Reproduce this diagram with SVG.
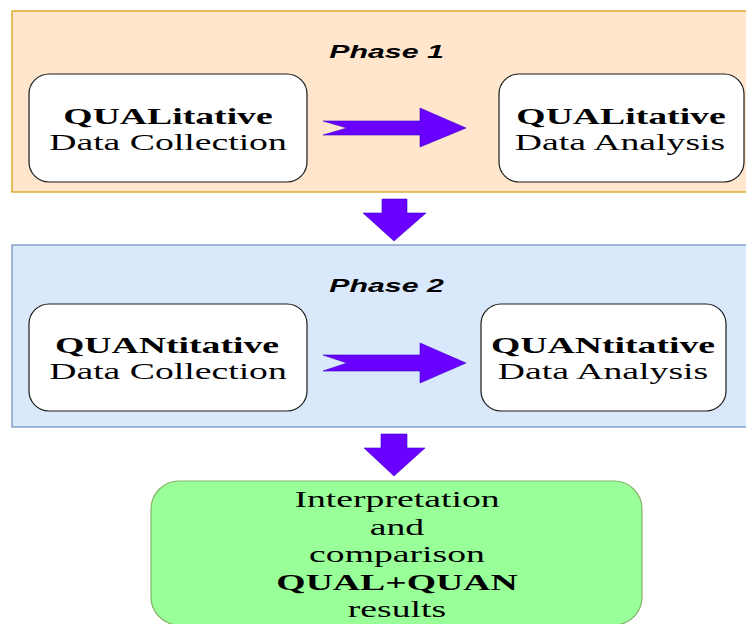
<svg xmlns="http://www.w3.org/2000/svg" width="746" height="624" viewBox="0 0 746 624">
  <style>
    .phase1 { fill: #ffe6cc; stroke: #d79b00; stroke-width: 1.2; }
    .phase2 { fill: #dae8fc; stroke: #6c8ebf; stroke-width: 1.2; }
    .node { fill: #ffffff; stroke: #1a1a1a; stroke-width: 1.2; }
    .result { fill: #99ff99; stroke: #82b366; stroke-width: 1.2; }
    .arrow { fill: #6a00ff; stroke: #3700cc; stroke-width: 0.6; }
    text { text-anchor: middle; fill: #000; }
    .label { font-family: "Liberation Sans", Arial, sans-serif; font-weight: bold; font-style: italic; font-size: 18.5px; }
    .t { font-family: "Liberation Serif", "Times New Roman", serif; font-size: 23px; }
    .b { font-weight: bold; }
  </style>

  <!-- Phase containers (text is drawn 1.64x wide) -->
  <g id="phase1">
    <rect class="phase1" x="12" y="11" width="740" height="181"/>
    <text class="label" transform="translate(386.5,58) scale(1.64,1)">Phase 1</text>
  </g>
  <g id="phase2">
    <rect class="phase2" x="12" y="245" width="740" height="182"/>
    <text class="label" transform="translate(386.5,292) scale(1.64,1)">Phase 2</text>
  </g>

  <!-- Nodes -->
  <g id="qual-collection">
    <rect class="node" x="29" y="74" width="278" height="108" rx="20"/>
    <text class="t b" transform="translate(168,124) scale(1.64,1)">QUALitative</text>
    <text class="t" transform="translate(168,150) scale(1.64,1)">Data Collection</text>
  </g>
  <g id="qual-analysis">
    <rect class="node" x="499" y="74" width="245" height="108" rx="20"/>
    <text class="t b" transform="translate(621,124) scale(1.64,1)">QUALitative</text>
    <text class="t" transform="translate(620,150) scale(1.64,1)">Data Analysis</text>
  </g>
  <g id="quan-collection">
    <rect class="node" x="29" y="304" width="278" height="107" rx="20"/>
    <text class="t b" transform="translate(167,353) scale(1.64,1)">QUANtitative</text>
    <text class="t" transform="translate(168,379) scale(1.64,1)">Data Collection</text>
  </g>
  <g id="quan-analysis">
    <rect class="node" x="481" y="304" width="245" height="107" rx="20"/>
    <text class="t b" transform="translate(603,353) scale(1.64,1)">QUANtitative</text>
    <text class="t" transform="translate(603,379) scale(1.64,1)">Data Analysis</text>
  </g>
  <g id="results">
    <rect class="result" x="151" y="481" width="491" height="144" rx="28"/>
    <text class="t" transform="translate(397,507) scale(1.64,1)">Interpretation</text>
    <text class="t" transform="translate(397,535) scale(1.64,1)">and</text>
    <text class="t" transform="translate(397,562) scale(1.64,1)">comparison</text>
    <text class="t b" transform="translate(397,590) scale(1.64,1)">QUAL+QUAN</text>
    <text class="t" transform="translate(397,617) scale(1.64,1)">results</text>
  </g>

  <!-- Connectors -->
  <g id="connectors">
    <path class="arrow" d="M323,121 L420,121 L420,108 L466,128 L420,147 L420,135 L323,135 L347,128 Z"/>
    <path class="arrow" d="M323,355 L420,355 L420,343 L466,363 L420,383 L420,371 L323,371 L347,363 Z"/>
    <path class="arrow" d="M382,199 L407,199 L407,213 L426,213 L394,241 L363,213 L382,213 Z"/>
    <path class="arrow" d="M381,434 L407,434 L407,448 L425,448 L394,476 L364,448 L381,448 Z"/>
  </g>
</svg>
